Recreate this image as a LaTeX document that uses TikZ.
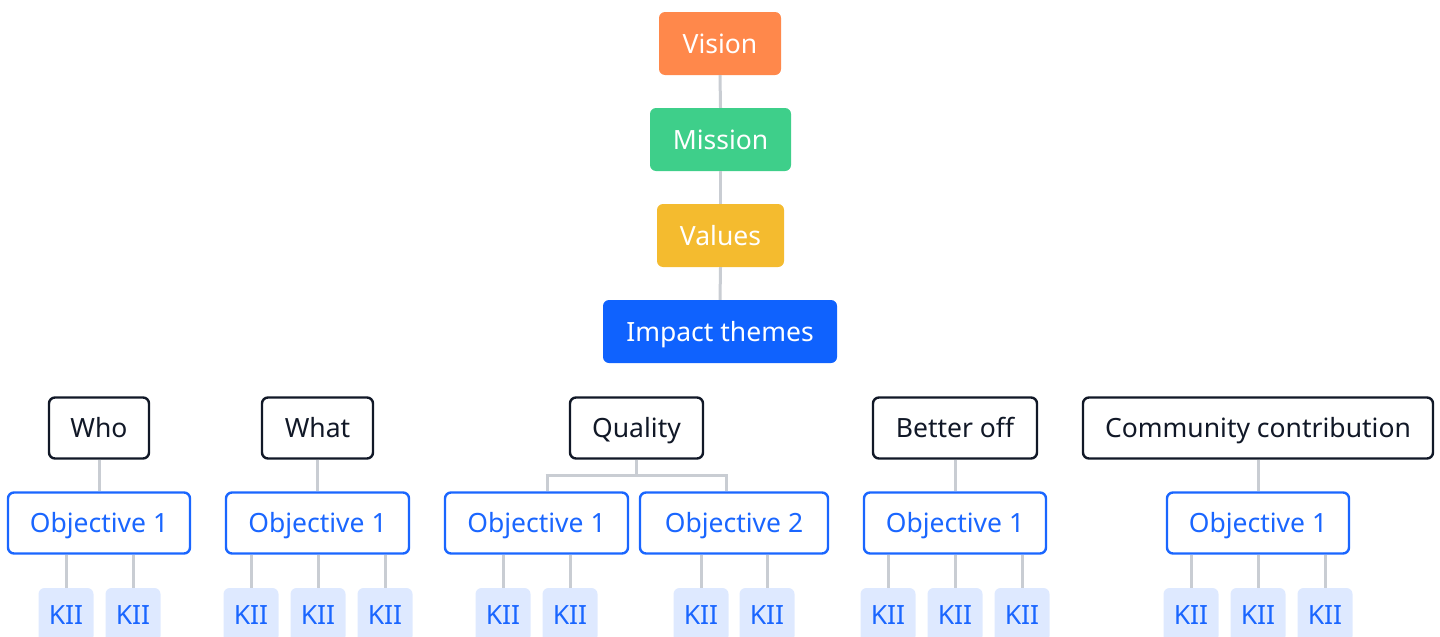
\documentclass[tikz,border=0pt]{standalone}
\usepackage{fontspec}
\setmainfont{Noto Sans}
\definecolor{cvision}{HTML}{FF884B}
\definecolor{cmission}{HTML}{3ECF8A}
\definecolor{cvalues}{HTML}{F4BB2F}
\definecolor{cimpact}{HTML}{0F62FE}
\definecolor{cdark}{HTML}{111827}
\definecolor{cblue}{HTML}{1A66FF}
\definecolor{ckii}{HTML}{DEE9FF}
\definecolor{cline}{HTML}{C9CDD3}
\tikzset{
  base/.style={rectangle, rounded corners=6pt, inner sep=0pt,
    font=\fontsize{26.5}{30}\selectfont, text height=19pt, text depth=0pt},
  topbox/.style={base, text=white, minimum height=63pt},
  theme/.style={base, draw=cdark, line width=2.4pt, fill=white, text=cdark, minimum height=61pt},
  objbox/.style={base, draw=cblue, line width=2.4pt, fill=white, text=cblue, minimum height=61pt},
  kii/.style={base, fill=ckii, text=cblue, minimum width=55pt, minimum height=54pt},
  conn/.style={draw=cline, line width=3pt},
}
\begin{document}
\begin{tikzpicture}[x=1pt,y=-1pt]
\useasboundingbox (0,0) rectangle (1440,637);
\clip (0,0) rectangle (1440,637);
% top chain
\node[topbox, fill=cvision, minimum width=122pt] (vision) at (720,43.5) {Vision};
\node[topbox, fill=cmission, minimum width=141pt] (mission) at (720.5,139.5) {Mission};
\node[topbox, fill=cvalues, minimum width=127pt] (values) at (720.5,235.5) {Values};
\node[topbox, fill=cimpact, minimum width=234pt] (impact) at (720,331.5) {Impact themes};
\draw[conn] (vision.south) -- (mission.north);
\draw[conn] (mission.south) -- (values.north);
\draw[conn] (values.south) -- (impact.north);
% themes
\node[theme, minimum width=100pt] (who) at (99,428) {Who};
\node[theme, minimum width=111pt] (what) at (317.5,428) {What};
\node[theme, minimum width=133pt] (quality) at (636.5,428) {Quality};
\node[theme, minimum width=164pt] (better) at (955,428) {Better off};
\node[theme, minimum width=350pt] (community) at (1258,428) {Community contribution};
% objectives
\node[objbox, minimum width=182pt] (whoo) at (99,523) {Objective 1};
\node[objbox, minimum width=183pt] (whato) at (317.5,523) {Objective 1};
\node[objbox, minimum width=183pt] (qo1) at (536.5,523) {Objective 1};
\node[objbox, minimum width=188pt] (qo2) at (734,523) {Objective 2};
\node[objbox, minimum width=182pt] (bo) at (955,523) {Objective 1};
\node[objbox, minimum width=182pt] (co) at (1258,523) {Objective 1};
% theme to objective connectors
\draw[conn] (who.south) -- (whoo.north);
\draw[conn] (what.south) -- (whato.north);
\draw[conn] (better.south) -- (bo.north);
\draw[conn] (community.south) -- (co.north);
\coordinate (qL) at (547,475);
\coordinate (qR) at (726,475);
\draw[conn] (quality.south) -- (quality.south |- qL);
\draw[conn] ([xshift=-1.5pt]qL) -- ([xshift=1.5pt]qR);
\draw[conn] (qL) -- (qL |- qo1.north);
\draw[conn] (qR) -- (qR |- qo2.north);
% KII boxes
\foreach \kname/\kx/\kpar in {k1/66/whoo, k2/133/whoo,
  k3/251/whato, k4/318/whato, k5/385/whato,
  k6/503/qo1, k7/570/qo1,
  k8/701/qo2, k9/767/qo2,
  k10/888/bo, k11/955/bo, k12/1022/bo,
  k13/1191/co, k14/1258/co, k15/1325/co}{
  \node[kii] (\kname) at (\kx,615) {KII};
  \draw[conn] (\kpar.south -| \kname.north) -- (\kname.north);
}
\end{tikzpicture}
\end{document}
